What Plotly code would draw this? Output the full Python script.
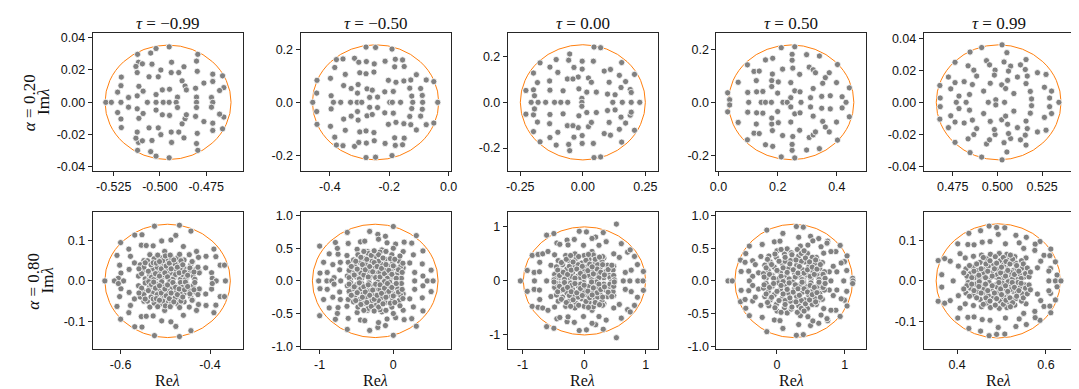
import plotly.graph_objects as go

# Eigenvalues, upper half-plane only (Re, Im).
# The spectra are conjugate-symmetric, so the lower half is the mirror image.
P1 = [(-0.4950, 0.0343), (-0.5121, 0.0297), (-0.5050, 0.0305), (-0.5021, 0.0333), (-0.4795, 0.0297),
      (-0.5116, 0.0248), (-0.4937, 0.0248), (-0.4802, 0.0255), (-0.5130, 0.0222), (-0.5095, 0.0238),
      (-0.5043, 0.0236), (-0.4870, 0.0220), (-0.4995, 0.0200), (-0.4798, 0.0192), (-0.5123, 0.0184),
      (-0.4939, 0.0184), (-0.4898, 0.0184), (-0.5209, 0.0156), (-0.5059, 0.0158), (-0.5009, 0.0158),
      (-0.4714, 0.0174), (-0.4661, 0.0164), (-0.4880, 0.0133), (-0.4714, 0.0129), (-0.4762, 0.0119),
      (-0.5211, 0.0103), (-0.5114, 0.0099), (-0.4864, 0.0101), (-0.4807, 0.0087), (-0.4654, 0.0091),
      (-0.5229, 0.0063), (-0.5091, 0.0069), (-0.4987, 0.0077), (-0.4948, 0.0081), (-0.4677, 0.0073),
      (-0.4857, 0.0077), (-0.5021, 0.0048), (-0.5170, 0.0030), (-0.5123, 0.0040), (-0.4905, 0.0032),
      (-0.4802, 0.0032), (-0.4721, 0.0030),
      (-0.5293, 0), (-0.5263, 0), (-0.5211, 0), (-0.5068, 0), (-0.5021, 0), (-0.4982, 0),
      (-0.4950, 0), (-0.4912, 0), (-0.4802, 0), (-0.4714, 0)]

P2 = [(-0.2781, 0.2080), (-0.2460, 0.2067), (-0.1906, 0.2006), (-0.3778, 0.1609), (-0.3557, 0.1634),
      (-0.3169, 0.1659), (-0.3025, 0.1510), (-0.2770, 0.1535), (-0.2504, 0.1448), (-0.2139, 0.1548),
      (-0.1795, 0.1622), (-0.1551, 0.1597), (-0.3834, 0.1312), (-0.1817, 0.1337), (-0.1496, 0.1349),
      (-0.3479, 0.1052), (-0.2992, 0.1114), (-0.2781, 0.1077), (-0.2515, 0.1139), (-0.1086, 0.1040),
      (-0.3978, 0.0904), (-0.2028, 0.0829), (-0.1773, 0.0755), (-0.1507, 0.0805), (-0.1274, 0.0842),
      (-0.0754, 0.0842), (-0.0499, 0.0780), (-0.4432, 0.0829), (-0.3535, 0.0631), (-0.3280, 0.0520),
      (-0.3047, 0.0669), (-0.0942, 0.0520), (-0.4443, 0.0347), (-0.3956, 0.0248), (-0.3069, 0.0347),
      (-0.2748, 0.0508), (-0.2571, 0.0458), (-0.2150, 0.0396), (-0.1862, 0.0409), (-0.1308, 0.0532),
      (-0.1241, 0.0235), (-0.0887, 0.0260), (-0.2659, 0.0186), (-0.2393, 0.0198),
      (-0.4576, 0), (-0.3878, 0), (-0.3634, 0), (-0.3302, 0), (-0.3080, 0), (-0.2925, 0),
      (-0.1983, 0), (-0.1895, 0), (-0.1618, 0), (-0.1208, 0), (-0.0875, 0), (-0.0366, 0)]

P3 = [(0.0447, 0.2418), (0.0711, 0.2389), (-0.0526, 0.2115), (-0.1066, 0.1871), (-0.0566, 0.1842),
      (-0.0026, 0.1799), (0.0421, 0.1799), (0.1553, 0.1741), (-0.1711, 0.1727), (-0.1316, 0.1540),
      (-0.0355, 0.1525), (-0.0026, 0.1453), (0.0855, 0.1367), (0.1105, 0.1439), (-0.1974, 0.1281),
      (-0.1000, 0.1309), (0.1461, 0.1180), (0.2066, 0.1223), (-0.0184, 0.1108), (0.0224, 0.1065),
      (-0.0619, 0.1022), (-0.0395, 0.1022), (-0.1329, 0.0935), (0.0342, 0.0878), (0.1053, 0.0878),
      (0.1711, 0.0907), (-0.1816, 0.0863), (-0.0158, 0.0590), (0.0158, 0.0446), (0.1527, 0.0648),
      (-0.2277, 0.0518), (-0.1974, 0.0547), (-0.1316, 0.0532), (-0.0790, 0.0504), (0.0540, 0.0446),
      (0.0987, 0.0360), (0.1895, 0.0561), (-0.1935, 0.0288), (0.1290, 0.0331), (0.1935, 0.0432),
      (-0.0039, 0.0173),
      (-0.2066, 0), (-0.1790, 0), (-0.1487, 0), (-0.1132, 0), (-0.0882, 0), (-0.0605, 0),
      (-0.0039, 0), (0.1198, 0), (0.1579, 0), (0.1935, 0), (0.2277, 0)]

P4 = [(0.2122, 0.2062), (0.2578, 0.2099), (0.2489, 0.1813), (0.2978, 0.1801), (0.3411, 0.1751),
      (0.1589, 0.1602), (0.1833, 0.1664), (0.2489, 0.1590), (0.0978, 0.1416), (0.3066, 0.1329),
      (0.3200, 0.1230), (0.4022, 0.1428), (0.1200, 0.1167), (0.1378, 0.1180), (0.2167, 0.1254),
      (0.2511, 0.1292), (0.1822, 0.1068), (0.2744, 0.1056), (0.3278, 0.1118), (0.3744, 0.1118),
      (0.0667, 0.0758), (0.1278, 0.0820), (0.1800, 0.0820), (0.2022, 0.0770), (0.2444, 0.0745),
      (0.3522, 0.0720), (0.3611, 0.0932), (0.3989, 0.0745), (0.0311, 0.0360), (0.0989, 0.0373),
      (0.1289, 0.0397), (0.1500, 0.0410), (0.1800, 0.0596), (0.2000, 0.0348), (0.2578, 0.0435),
      (0.2756, 0.0397), (0.3200, 0.0522), (0.4422, 0.0546), (0.3489, 0.0224), (0.3778, 0.0248),
      (0.4178, 0.0211), (0.2444, 0.0174), (0.3111, 0.0174), (0.0378, 0.0099),
      (0.1022, 0), (0.1444, 0), (0.1589, 0), (0.1789, 0), (0.2178, 0), (0.2322, 0),
      (0.2789, 0), (0.4311, 0)]

P5 = [(0.5026, 0.0359), (0.4912, 0.0342), (0.5053, 0.0310), (0.4847, 0.0314), (0.4939, 0.0260),
      (0.5037, 0.0252), (0.5160, 0.0267), (0.4763, 0.0250), (0.4956, 0.0234), (0.5074, 0.0226),
      (0.5129, 0.0234), (0.5156, 0.0205), (0.4836, 0.0228), (0.4868, 0.0201), (0.4987, 0.0201),
      (0.5062, 0.0195), (0.4726, 0.0158), (0.4814, 0.0129), (0.4860, 0.0111), (0.4960, 0.0119),
      (0.5024, 0.0109), (0.5057, 0.0137), (0.5112, 0.0158), (0.5160, 0.0117), (0.5224, 0.0185),
      (0.5272, 0.0174), (0.4678, 0.0105), (0.4739, 0.0084), (0.4785, 0.0039), (0.4844, 0.0049),
      (0.4923, 0.0070), (0.5046, 0.0086), (0.5092, 0.0055), (0.5184, 0.0068), (0.5263, 0.0094),
      (0.5303, 0.0070), (0.4763, 0.0123), (0.4884, 0.0164), (0.4983, 0.0170), (0.5167, 0.0164),
      (0.4680, 0.0027), (0.5292, 0.0027), (0.5191, 0.0021), (0.4991, 0.0016),
      (0.4770, 0), (0.4825, 0), (0.4949, 0), (0.5040, 0), (0.5344, 0)]

P6 = [(-0.5243, 0.1358), (-0.4684, 0.1382), (-0.5684, 0.1138), (-0.5522, 0.1146), (-0.4765, 0.1130),
      (-0.4427, 0.1236), (-0.6000, 0.0951), (-0.5537, 0.0886), (-0.5427, 0.0878), (-0.5272, 0.0870),
      (-0.4596, 0.0854), (-0.4302, 0.0732), (-0.3913, 0.0789), (-0.6081, 0.0634), (-0.5816, 0.0789),
      (-0.5780, 0.0610), (-0.4875, 0.1016), (-0.5081, 0.0992), (-0.4258, 0.0585), (-0.4089, 0.0610),
      (-0.3869, 0.0602), (-0.3773, 0.0390), (-0.3677, 0.0390), (-0.5993, 0.0195), (-0.6051, 0.0065),
      (-0.5809, 0.0285), (-0.5691, 0.0447), (-0.5478, 0.0504), (-0.4390, 0.0472), (-0.4096, 0.0325),
      (-0.3964, 0.0203), (-0.4243, 0.0228), (-0.6022, 0.0390), (-0.4464, 0.0650), (-0.5015, 0.0732),
      (-0.5346, 0.0650), (-0.5236, 0.0528), (-0.4677, 0.0569), (-0.3949, 0.0065),
      (-0.545, 0.005), (-0.535, 0.015), (-0.528, 0.030), (-0.520, 0.008), (-0.515, 0.022),
      (-0.510, 0.040), (-0.505, 0.012), (-0.500, 0.028), (-0.497, 0.050), (-0.492, 0.006),
      (-0.488, 0.018), (-0.484, 0.035), (-0.480, 0.010), (-0.475, 0.026), (-0.470, 0.045),
      (-0.466, 0.004), (-0.462, 0.016), (-0.458, 0.032), (-0.452, 0.008), (-0.448, 0.022),
      (-0.443, 0.040), (-0.438, 0.012), (-0.432, 0.028), (-0.550, 0.025), (-0.556, 0.040),
      (-0.540, 0.050), (-0.525, 0.055), (-0.512, 0.058), (-0.486, 0.056), (-0.472, 0.058),
      (-0.458, 0.052), (-0.424, 0.020), (-0.560, 0.012),
      (-0.532, 0.040), (-0.518, 0.034), (-0.503, 0.042), (-0.494, 0.026), (-0.478, 0.042),
      (-0.466, 0.028), (-0.455, 0.003), (-0.508, 0.002), (-0.490, 0.002), (-0.537, 0.002),
      (-0.553, 0.018), (-0.548, 0.034), (-0.538, 0.024), (-0.531, 0.009),
      (-0.527, 0.045), (-0.522, 0.018), (-0.517, 0.064), (-0.513, 0.012), (-0.509, 0.030),
      (-0.506, 0.050), (-0.501, 0.020), (-0.498, 0.037), (-0.495, 0.010), (-0.491, 0.044),
      (-0.487, 0.030), (-0.483, 0.004), (-0.481, 0.052), (-0.477, 0.016), (-0.473, 0.034),
      (-0.469, 0.020), (-0.465, 0.050), (-0.461, 0.040), (-0.457, 0.022),
      (-0.450, 0.014), (-0.445, 0.032), (-0.440, 0.048), (-0.436, 0.022), (-0.434, 0.004),
      (-0.427, 0.034), (-0.520, 0.044), (-0.500, 0.062), (-0.468, 0.066),
      (-0.545, 0.045), (-0.559, 0.030), (-0.526, 0.003), (-0.513, 0.048), (-0.489, 0.064),
      (-0.6353, 0), (-0.6140, 0), (-0.5934, 0), (-0.3861, 0), (-0.3655, 0)]

P7 = [(0.000, 0.831), (-0.321, 0.756), (-0.210, 0.711), (-0.107, 0.682), (0.312, 0.692),
      (-0.625, 0.741), (-1.000, 0.532), (-0.786, 0.587), (-0.612, 0.572), (-0.446, 0.597),
      (-0.388, 0.607), (-0.201, 0.637), (-0.085, 0.582), (0.031, 0.562), (0.147, 0.592),
      (0.250, 0.577), (0.402, 0.458), (0.272, 0.398), (0.134, 0.448), (-0.870, 0.413),
      (-0.750, 0.408), (-0.629, 0.388), (-0.946, 0.284), (-0.821, 0.249), (-0.719, 0.284),
      (-0.612, 0.284), (-0.995, 0.119), (-0.897, 0.129), (-0.728, 0.169), (0.290, 0.129),
      (0.393, 0.259), (0.513, 0.164), (-0.759, 0.497), (-0.491, 0.483), (-0.348, 0.448),
      (-0.156, 0.473), (0.000, 0.498), (-0.804, 0.050), (0.223, 0.274), (0.134, 0.199),
      (-0.580, 0.199), (-0.625, 0.075), (0.402, 0.075),
      (-0.58, 0.03), (-0.55, 0.12), (-0.52, 0.22), (-0.50, 0.06), (-0.47, 0.15), (-0.45, 0.28),
      (-0.43, 0.04), (-0.41, 0.19), (-0.39, 0.34), (-0.37, 0.10), (-0.35, 0.24), (-0.33, 0.03),
      (-0.31, 0.15), (-0.29, 0.30), (-0.27, 0.08), (-0.25, 0.20), (-0.23, 0.37), (-0.21, 0.02),
      (-0.19, 0.13), (-0.17, 0.26), (-0.15, 0.06), (-0.13, 0.18), (-0.11, 0.33), (-0.09, 0.10),
      (-0.07, 0.23), (-0.05, 0.02), (-0.03, 0.15), (-0.01, 0.29), (0.01, 0.07), (0.03, 0.20),
      (0.06, 0.12), (0.08, 0.30), (-0.60, 0.16), (-0.54, 0.32), (-0.48, 0.40), (-0.34, 0.42),
      (-0.18, 0.44), (-0.02, 0.40), (0.10, 0.22), (0.11, 0.04), (-0.44, 0.12), (-0.26, 0.13),
      (-0.12, 0.01), (-0.38, 0.26), (-0.20, 0.30),
      (-0.60, 0.05), (-0.57, 0.22), (-0.53, 0.09), (-0.51, 0.30), (-0.49, 0.18), (-0.46, 0.03),
      (-0.44, 0.36), (-0.42, 0.25), (-0.40, 0.09), (-0.38, 0.17), (-0.36, 0.33), (-0.34, 0.06),
      (-0.32, 0.22), (-0.30, 0.39), (-0.28, 0.14), (-0.26, 0.28), (-0.24, 0.05), (-0.22, 0.22),
      (-0.20, 0.40), (-0.18, 0.06), (-0.16, 0.19), (-0.14, 0.35), (-0.12, 0.11), (-0.10, 0.25),
      (-0.08, 0.04), (-0.06, 0.16), (-0.04, 0.34), (-0.02, 0.10), (0.00, 0.23), (0.02, 0.33),
      (0.04, 0.04), (0.07, 0.17), (0.09, 0.38), (0.12, 0.13), (0.13, 0.27),
      (-0.40, 0.45), (-0.26, 0.46), (-0.10, 0.45),
      (-1.013, 0), (-0.902, 0), (-0.835, 0), (-0.714, 0), (0.290, 0), (0.460, 0), (0.540, 0)]

P8 = [(0.524, 1.051), (-0.080, 0.918), (0.037, 0.906), (0.310, 0.894), (0.187, 0.810),
      (-0.492, 0.876), (-0.610, 0.846), (-0.444, 0.701), (-0.278, 0.755), (-0.160, 0.767),
      (0.128, 0.785), (0.241, 0.659), (0.358, 0.725), (0.604, 0.689), (-0.845, 0.471),
      (-0.749, 0.489), (-0.674, 0.501), (-0.588, 0.544), (-0.396, 0.677), (-0.262, 0.665),
      (-0.011, 0.659), (0.128, 0.544), (0.481, 0.501), (0.572, 0.435), (0.706, 0.532),
      (0.749, 0.574), (0.818, 0.453), (-0.925, 0.193), (-0.813, 0.157), (-0.727, 0.169),
      (-0.540, 0.290), (-0.422, 0.375), (0.866, 0.302), (0.765, 0.199), (0.669, 0.157),
      (0.963, 0.175), (-0.722, 0.344), (-0.481, 0.483), (0.321, 0.423), (0.481, 0.272),
      (-0.42, 0.05), (-0.38, 0.18), (-0.35, 0.30), (-0.31, 0.09), (-0.28, 0.22), (-0.25, 0.38),
      (-0.22, 0.04), (-0.19, 0.15), (-0.16, 0.28), (-0.13, 0.42), (-0.10, 0.09), (-0.07, 0.21),
      (-0.04, 0.33), (-0.01, 0.03), (0.02, 0.14), (0.05, 0.26), (0.08, 0.40), (0.11, 0.07),
      (0.14, 0.19), (0.17, 0.32), (0.20, 0.02), (0.23, 0.12), (0.26, 0.25), (0.29, 0.37),
      (0.32, 0.06), (0.35, 0.17), (0.38, 0.29), (0.41, 0.10), (0.44, 0.02), (-0.45, 0.26),
      (-0.30, 0.47), (-0.15, 0.50), (0.00, 0.47), (0.15, 0.48), (0.30, 0.45),
      (0.47, 0.20), (-0.48, 0.12), (-0.06, 0.06), (0.08, 0.10), (-0.20, 0.08),
      (0.22, 0.30), (-0.10, 0.30), (0.00, 0.22),
      (-0.46, 0.04), (-0.43, 0.20), (-0.40, 0.10), (-0.37, 0.34), (-0.34, 0.16), (-0.32, 0.03),
      (-0.29, 0.40), (-0.27, 0.12), (-0.24, 0.27), (-0.21, 0.20), (-0.18, 0.35), (-0.15, 0.05),
      (-0.12, 0.22), (-0.09, 0.45), (-0.06, 0.14), (-0.03, 0.27), (0.00, 0.08), (0.03, 0.38),
      (0.06, 0.19), (0.09, 0.31), (0.12, 0.02), (0.15, 0.13), (0.18, 0.40), (0.21, 0.22),
      (0.24, 0.06), (0.27, 0.16), (0.30, 0.30), (0.33, 0.11), (0.39, 0.21),
      (0.42, 0.06), (0.45, 0.29), (0.48, 0.10), (-0.22, 0.47), (0.07, 0.49),
      (0.25, 0.44), (0.49, 0.02), (-0.49, 0.02), (0.13, 0.26),
      (-1.037, 0), (-0.808, 0), (-0.610, 0), (0.636, 0), (0.743, 0), (0.872, 0), (0.957, 0)]

P9 = [(0.286, 0.831), (0.388, 0.821), (-0.150, 0.776), (0.087, 0.726), (0.320, 0.667),
      (0.495, 0.682), (0.616, 0.647), (0.748, 0.607), (0.932, 0.542), (-0.408, 0.532),
      (-0.461, 0.418), (-0.218, 0.557), (-0.039, 0.597), (0.044, 0.607), (0.345, 0.532),
      (0.456, 0.547), (0.529, 0.612), (0.650, 0.522), (0.738, 0.577), (0.869, 0.448),
      (1.034, 0.383), (0.995, 0.294), (-0.539, 0.318), (-0.359, 0.308), (-0.471, 0.284),
      (-0.238, 0.373), (0.689, 0.423), (0.796, 0.448), (0.947, 0.274), (-0.529, 0.144),
      (-0.417, 0.149), (-0.359, 0.070), (0.772, 0.139), (0.883, 0.139), (0.830, 0.224),
      (1.029, 0.159), (1.116, 0.040), (-0.320, 0.249), (-0.272, 0.124), (0.602, 0.299),
      (0.650, 0.100),
      (-0.16, 0.04), (-0.13, 0.16), (-0.10, 0.29), (-0.07, 0.08), (-0.04, 0.21), (-0.01, 0.36),
      (0.02, 0.03), (0.05, 0.13), (0.08, 0.26), (0.11, 0.41), (0.14, 0.07), (0.17, 0.19),
      (0.20, 0.31), (0.23, 0.02), (0.26, 0.12), (0.29, 0.24), (0.32, 0.38), (0.35, 0.06),
      (0.38, 0.17), (0.41, 0.29), (0.44, 0.09), (0.47, 0.22), (0.50, 0.03), (0.53, 0.14),
      (0.56, 0.27), (0.60, 0.08), (0.63, 0.19), (0.66, 0.05), (-0.18, 0.24), (-0.12, 0.38),
      (0.00, 0.46), (0.15, 0.49), (0.30, 0.48), (0.45, 0.42), (0.58, 0.36), (0.67, 0.28),
      (-0.20, 0.11), (0.09, 0.01), (0.39, 0.02), (0.21, 0.43), (0.70, 0.14), (0.12, 0.30),
      (0.36, 0.30), (0.52, 0.36),
      (-0.19, 0.06), (-0.16, 0.20), (-0.14, 0.33), (-0.11, 0.10), (-0.08, 0.25), (-0.05, 0.04),
      (-0.03, 0.41), (0.00, 0.16), (0.03, 0.30), (0.06, 0.07), (0.09, 0.20), (0.12, 0.36),
      (0.15, 0.13), (0.18, 0.03), (0.19, 0.26), (0.22, 0.40), (0.24, 0.17), (0.27, 0.06),
      (0.28, 0.32), (0.31, 0.12), (0.33, 0.22), (0.36, 0.42), (0.37, 0.02), (0.40, 0.12),
      (0.42, 0.35), (0.45, 0.17), (0.48, 0.29), (0.49, 0.07), (0.52, 0.21), (0.55, 0.10),
      (0.57, 0.32), (0.59, 0.18), (0.62, 0.02), (0.64, 0.25), (0.68, 0.10),
      (0.06, 0.48), (0.40, 0.46), (0.71, 0.04),
      (-0.723, 0), (-0.660, 0), (-0.408, 0), (0.796, 0), (0.985, 0), (1.121, 0)]

P10 = [(0.4720, 0.1358), (0.4889, 0.1325), (0.5073, 0.1317), (0.4529, 0.1244), (0.4265, 0.1179),
       (0.4926, 0.1154), (0.5323, 0.1130), (0.5558, 0.1081), (0.5867, 0.0976), (0.5757, 0.0911),
       (0.6109, 0.0789), (0.4015, 0.0919), (0.4243, 0.0902), (0.4382, 0.0894), (0.4566, 0.0959),
       (0.4742, 0.0976), (0.5088, 0.0919), (0.5397, 0.0943), (0.5499, 0.0805), (0.5749, 0.0756),
       (0.5955, 0.0634), (0.6087, 0.0626), (0.3574, 0.0504), (0.3721, 0.0553), (0.3846, 0.0488),
       (0.4066, 0.0675), (0.4029, 0.0366), (0.4184, 0.0569), (0.4368, 0.0610), (0.5551, 0.0569),
       (0.5882, 0.0488), (0.6102, 0.0309), (0.6212, 0.0472), (0.3655, 0.0154), (0.4206, 0.0285),
       (0.5808, 0.0325), (0.6065, 0.0244), (0.6249, 0.0146),
       (0.425, 0.004), (0.430, 0.018), (0.436, 0.034), (0.442, 0.008), (0.447, 0.026),
       (0.452, 0.046), (0.457, 0.012), (0.462, 0.030), (0.467, 0.055), (0.472, 0.004),
       (0.477, 0.020), (0.482, 0.040), (0.487, 0.010), (0.492, 0.028), (0.497, 0.050),
       (0.502, 0.006), (0.507, 0.018), (0.512, 0.036), (0.517, 0.058), (0.522, 0.010),
       (0.527, 0.026), (0.532, 0.044), (0.537, 0.004), (0.542, 0.016), (0.547, 0.032),
       (0.552, 0.010), (0.557, 0.024), (0.455, 0.064), (0.475, 0.066),
       (0.495, 0.068), (0.512, 0.066), (0.530, 0.060), (0.545, 0.050),
       (0.420, 0.030), (0.470, 0.036), (0.490, 0.015), (0.505, 0.040),
       (0.520, 0.022), (0.460, 0.020), (0.535, 0.030), (0.450, 0.002), (0.515, 0.002),
       (0.422, 0.012), (0.428, 0.038), (0.433, 0.008), (0.438, 0.024), (0.444, 0.042),
       (0.449, 0.014), (0.454, 0.030), (0.459, 0.058), (0.464, 0.008), (0.465, 0.042),
       (0.469, 0.024), (0.474, 0.050), (0.479, 0.012), (0.484, 0.030), (0.486, 0.060),
       (0.489, 0.044), (0.494, 0.004), (0.498, 0.020), (0.500, 0.034), (0.504, 0.058),
       (0.509, 0.012), (0.510, 0.048), (0.514, 0.026), (0.519, 0.042), (0.524, 0.004),
       (0.525, 0.054), (0.529, 0.016), (0.534, 0.038), (0.539, 0.024),
       (0.544, 0.006), (0.549, 0.042), (0.554, 0.018), (0.558, 0.032), (0.562, 0.010),
       (0.520, 0.064), (0.415, 0.020), (0.565, 0.022),
       (0.3912, 0), (0.6065, 0), (0.6212, 0), (0.6337, 0)]

PANELS = [P1, P2, P3, P4, P5, P6, P7, P8, P9, P10]

TAUS = ["\u22120.99", "\u22120.50", "0.00", "0.50", "0.99"]
ALPHAS = ["0.20", "0.80"]

# theoretical support ellipse per panel: centre on the real axis, semi-axes
ELL_CX = [-0.4956, -0.246, 0.0, 0.2455, 0.5007, -0.4949, -0.2455, 0.005, 0.247, 0.4926]
ELL_RX = [0.0341, 0.2127, 0.250, 0.212, 0.0349, 0.1404, 0.853, 0.995, 0.869, 0.1397]
ELL_RY = [0.0354, 0.2167, 0.252, 0.2167, 0.0359, 0.1407, 0.866, 1.000, 0.866, 0.1415]

XTICKS = [[-0.525, -0.5, -0.475], [-0.4, -0.2, 0.0], [-0.25, 0, 0.25], [0, 0.2, 0.4],
          [0.475, 0.5, 0.525], [-0.6, -0.4], [-1, 0], [-1, 0, 1], [0, 1], [0.4, 0.6]]
XTEXT = [["-0.525", "-0.500", "-0.475"], ["-0.4", "-0.2", "0.0"], ["-0.25", "0.00", "0.25"],
         ["0.0", "0.2", "0.4"], ["0.475", "0.500", "0.525"], ["-0.6", "-0.4"], ["-1", "0"],
         ["-1", "0", "1"], ["0", "1"], ["0.4", "0.6"]]
Y_SMALL = ([-0.04, -0.02, 0, 0.02, 0.04], ["-0.04", "-0.02", "0.00", "0.02", "0.04"])
Y_MID = ([-0.2, 0, 0.2], ["-0.2", "0.0", "0.2"])
Y_TENTH = ([-0.1, 0, 0.1], ["-0.1", "0.0", "0.1"])
Y_HALF = ([-1, -0.5, 0, 0.5, 1], ["-1.0", "-0.5", "0.0", "0.5", "1.0"])
Y_ONE = ([-1, 0, 1], ["-1", "0", "1"])
YTICKS = [Y_SMALL, Y_MID, Y_MID, Y_MID, Y_SMALL, Y_TENTH, Y_HALF, Y_ONE, Y_HALF, Y_TENTH]

XR = [(-0.5364, -0.4553), (-0.4986, 0.0066), (-0.300, 0.300), (-0.0067, 0.4989), (0.4588, 0.5425),
      (-0.6625, -0.3273), (-1.259, 0.777), (-1.241, 1.198), (-0.893, 1.315), (0.325, 0.6617)]
YR = [(-0.0427, 0.0427), (-0.26, 0.26), (-0.302, 0.302), (-0.2608, 0.2608), (-0.0431, 0.0431),
      (-0.1703, 0.1703), (-1.048, 1.048), (-1.269, 1.269), (-1.048, 1.048), (-0.170, 0.170)]

W, H = 1079, 389
COLS = [(78.7, 230.5), (289.3, 441.3), (499.3, 651.3), (710.7, 862.3), (920.7, 1072.3)]
ROWS = [(22.7, 163.3), (205.0, 344.7)]

DOT = "#808080"
ORANGE = "#ff7f0e"
FRAME = "#262626"
INK = "#111111"
SERIF = "Liberation Serif, DejaVu Serif, serif"
SANS = "Liberation Sans, Arial, sans-serif"

fig = go.Figure()
layout = {}
shapes = []
annotations = []

for i, pts in enumerate(PANELS):
    r, c = divmod(i, 5)
    sfx = "" if i == 0 else str(i + 1)
    xs = [p[0] for p in pts] + [p[0] for p in pts if p[1] > 0]
    ys = [p[1] for p in pts] + [-p[1] for p in pts if p[1] > 0]
    fig.add_trace(go.Scatter(
        x=xs, y=ys, mode="markers", xaxis="x" + sfx, yaxis="y" + sfx,
        marker=dict(size=6.2, color=DOT, line=dict(color="white", width=0.8)),
        showlegend=False, hoverinfo="skip",
    ))
    x0, x1 = COLS[c]
    y0, y1 = ROWS[r]
    common = dict(
        showline=True, mirror=True, linecolor=FRAME, linewidth=1,
        ticks="outside", ticklen=4, tickwidth=1, tickcolor=FRAME,
        showgrid=False, zeroline=False,
        tickfont=dict(family=SANS, size=12.5, color=INK),
    )
    layout["xaxis" + sfx] = dict(
        common, domain=[x0 / W, x1 / W], anchor="y" + sfx, range=list(XR[i]),
        tickmode="array", tickvals=XTICKS[i], ticktext=XTEXT[i],
    )
    layout["yaxis" + sfx] = dict(
        common, domain=[1 - y1 / H, 1 - y0 / H], anchor="x" + sfx, range=list(YR[i]),
        tickmode="array", tickvals=YTICKS[i][0], ticktext=YTICKS[i][1],
    )
    shapes.append(dict(
        type="circle", xref="x" + sfx, yref="y" + sfx, layer="below",
        x0=ELL_CX[i] - ELL_RX[i], x1=ELL_CX[i] + ELL_RX[i], y0=-ELL_RY[i], y1=ELL_RY[i],
        line=dict(color=ORANGE, width=1),
    ))
    if r == 0:
        annotations.append(dict(
            text="<i>\u03c4</i> = " + TAUS[c], xref="paper", yref="paper",
            x=(x0 + x1) / 2 / W, y=1 - 13 / H, xanchor="center", yanchor="middle",
            showarrow=False, font=dict(family=SERIF, size=17, color=INK),
        ))
    else:
        annotations.append(dict(
            text="Re<i>\u03bb</i>", xref="paper", yref="paper",
            x=(x0 + x1) / 2 / W, y=1 - 376 / H, xanchor="center", yanchor="middle",
            showarrow=False, font=dict(family=SERIF, size=16, color=INK),
        ))

# row labels (two stacked rotated lines, as in a two-line y label)
ROW_LABEL_X = [(15, 29), (19, 33)]
for r in range(2):
    yc = 1 - (ROWS[r][0] + ROWS[r][1]) / 2 / H
    ax_, bx_ = ROW_LABEL_X[r]
    annotations.append(dict(
        text="<i>\u03b1</i> = " + ALPHAS[r], xref="paper", yref="paper", x=ax_ / W, y=yc,
        xanchor="center", yanchor="middle", textangle=-90, showarrow=False,
        font=dict(family=SERIF, size=17, color=INK),
    ))
    annotations.append(dict(
        text="Im<i>\u03bb</i>", xref="paper", yref="paper", x=bx_ / W, y=yc,
        xanchor="center", yanchor="middle", textangle=-90, showarrow=False,
        font=dict(family=SERIF, size=17, color=INK),
    ))

fig.update_layout(
    width=W, height=H,
    margin=dict(l=0, r=0, t=0, b=0),
    paper_bgcolor="white", plot_bgcolor="white",
    shapes=shapes, annotations=annotations,
    **layout,
)

fig.write_html("out.html")
